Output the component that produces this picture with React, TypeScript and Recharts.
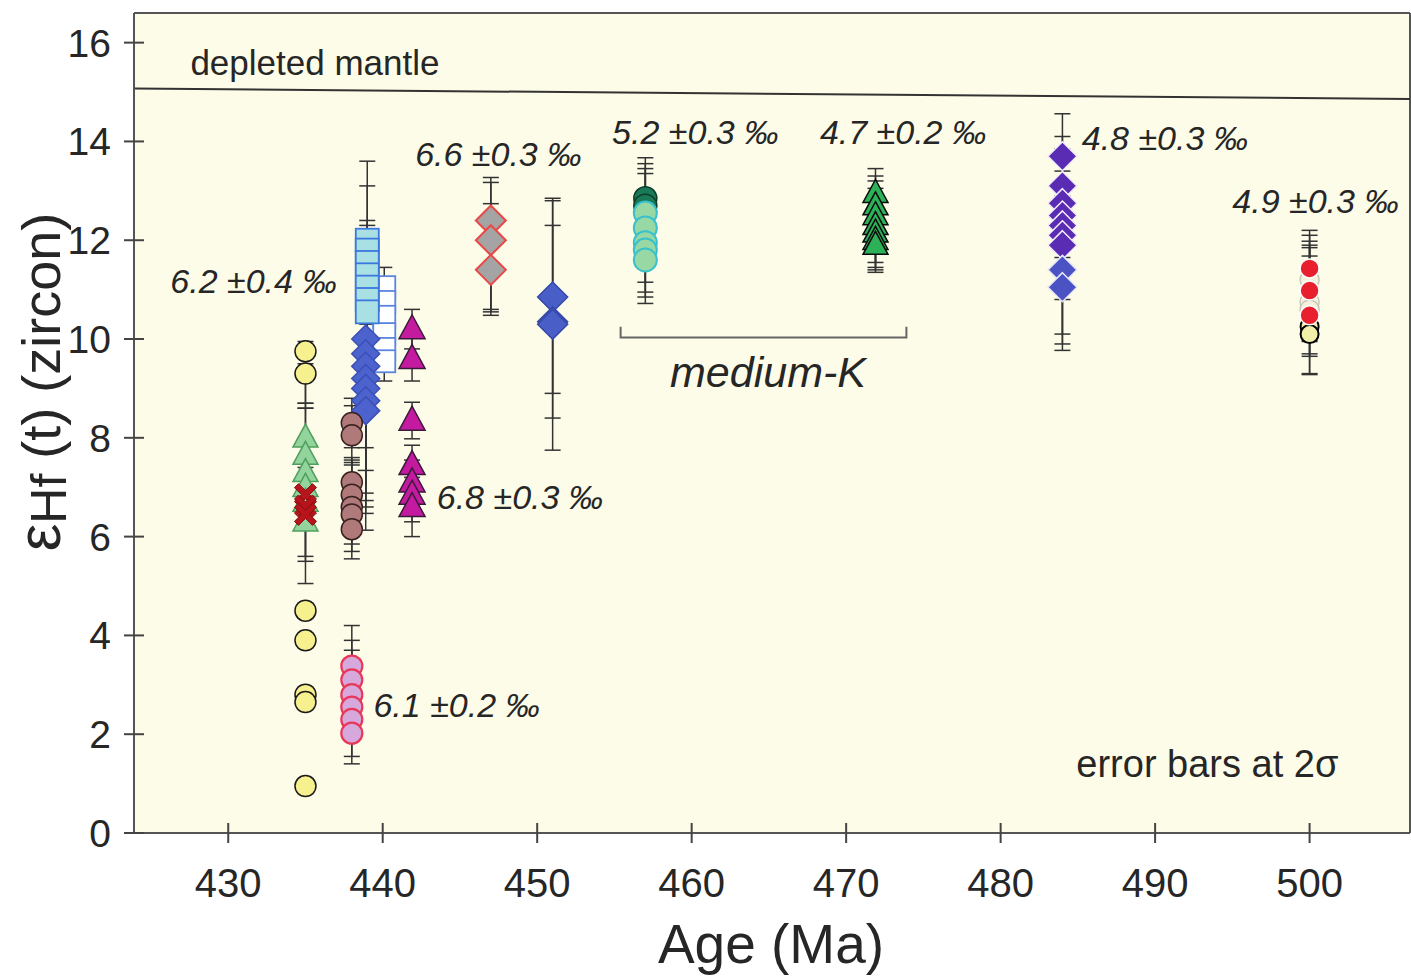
import React from 'react';
import {
  ScatterChart,
  Scatter,
  XAxis,
  YAxis,
  ErrorBar,
  CartesianGrid,
  ReferenceLine,
  ReferenceDot,
} from 'recharts';

const FONT = '"Liberation Sans", Arial, sans-serif';
const TEXT = '#262626';

const X_DOMAIN = [423.9, 506.5];
const Y_DOMAIN = [0, 16.6];
const X_TICKS = [430, 440, 450, 460, 470, 480, 490, 500];
const Y_TICKS = [0, 2, 4, 6, 8, 10, 12, 14, 16];

// depleted mantle reference line
const DM_AGE = [423.9, 506.5];
const DM_EHF = [15.07, 14.86];

// bracket under the medium-K samples
const BRACKET_AGE = [455.4, 455.4, 473.9, 473.9];
const BRACKET_EHF = [10.25, 10.03, 10.03, 10.25];

// eHf(t) values and 2σ errors (single number or [low, high])
const YELLOW_EHF = [9.75, 9.3, 4.5, 3.9, 2.8, 2.65, 0.95];
const YELLOW_ERR = [[1.15, 0.2], [0.6, 0.2], 0.15, 0.15, 0.15, 0.15, 0.15];

const GREEN435_EHF = [8.0, 7.65, 7.3, 7.0, 6.7, 6.3];
const GREEN435_ERR = [[0.6, 0.7], [0.9, 0.95], [0.8, 0.7], [1.4, 0.9], [1.2, 0.8], [1.25, 0.9]];

const RED435_EHF = [6.85, 6.62, 6.45];
const RED435_ERR = [0.3, 0.3, 0.3];

const BROWN_EHF = [8.3, 8.05, 7.1, 6.85, 6.6, 6.45, 6.15];
const BROWN_ERR = [0.5, 0.6, 0.5, 0.7, 0.9, 0.6, 0.6];

const PINK_EHF = [3.38, 3.1, 2.8, 2.55, 2.3, 2.02];
const PINK_ERR = [0.82, 0.8, 0.9, 0.6, 0.9, 0.47];

const OPENSQ_EHF = [11.05, 10.75, 10.45, 10.1, 9.8, 9.55];
const OPENSQ_ERR = [0.4, 0.4, 0.4, 0.4, 0.4, 0.4];

const CYANSQ_EHF = [12.0, 11.8, 11.55, 11.3, 11.05, 10.8, 10.55];
const CYANSQ_ERR = [1.6, 1.3, 0.85, 1.0, 1.1, 1.0, 1.2];

const BLUE439_EHF = [10.0, 9.7, 9.45, 9.2, 9.0, 8.75, 8.55];
const BLUE439_ERR = [[2.2, 0.9], [2.36, 0.9], [2.57, 0.9], [2.47, 0.9], [2.4, 0.9], [2.28, 0.9], [2.42, 0.9]];

const MAGENTA_EHF = [10.2, 9.6, 8.35, 7.45, 7.1, 6.85, 6.6];
const MAGENTA_ERR = [0.4, 0.45, 0.37, 0.4, 0.45, 0.55, 0.6];

const GREY_EHF = [12.4, 12.0, 11.4];
const GREY_ERR = [[1.8, 0.87], [1.45, 1.17], [0.92, 1.34]];

const BLUE451_EHF = [10.85, 10.35, 10.3];
const BLUE451_ERR = [1.95, 1.95, 2.55];

const DKGREEN_EHF = [12.85, 12.7];
const DKGREEN_ERR = [0.82, 0.85];

const TEAL_EHF = [12.55, 12.25, 11.95, 11.8, 11.6];
const TEAL_ERR = [0.9, 1.1, 1.0, 0.95, 0.88];

const GREEN472_EHF = [12.95, 12.7, 12.5, 12.3, 12.15, 12.0, 11.9];
const GREEN472_ERR = [0.5, 0.6, 0.7, 0.75, 0.7, 0.6, 0.55];

const PURPLE_EHF = [13.7, 13.1, 12.75, 12.5, 12.3, 12.1, 11.9];
const PURPLE_ERR = [0.86, 1.0, 1.1, 1.2, 1.3, 1.3, 1.8];

const BLUE484_EHF = [11.4, 11.05];
const BLUE484_ERR = [1.5, 1.28];

const PALE500_EHF = [11.2, 10.75, 10.6];
const PALE500_ERR = [0.9, 1.1, 1.3];

const YELLOW500_EHF = [10.25, 10.1];
const YELLOW500_ERR = [0.3, 0.4];

const RED500_EHF = [11.43, 10.98, 10.48];
const RED500_ERR = [0.77, 1.0, 1.2];

// annotations
const NOTE_TEXT = ['6.2 ±0.4 ‰', '6.6 ±0.3 ‰', '5.2 ±0.3 ‰', '4.7 ±0.2 ‰', '4.8 ±0.3 ‰', '4.9 ±0.3 ‰', '6.8 ±0.3 ‰', '6.1 ±0.2 ‰'];
const NOTE_AGE = [426.25, 442.1, 454.85, 468.3, 485.25, 495.0, 443.5, 439.4];
const NOTE_EHF = [10.94, 13.51, 13.94, 13.94, 13.82, 12.56, 6.55, 2.35];

const mk = (age: number, ehf: number[], err: any[]) =>
  ehf.map((v, i) => ({ age, ehf: v, err: err[i] }));

const circle = (r: number, fill: string, stroke: string, sw = 1.5) => (p: any) =>
  p.cx == null ? <g /> : <circle cx={p.cx} cy={p.cy} r={r} fill={fill} stroke={stroke} strokeWidth={sw} />;

const square = (h: number, fill: string, stroke: string, sw = 1.8) => (p: any) =>
  p.cx == null ? <g /> : (
    <rect x={p.cx - h} y={p.cy - h} width={2 * h} height={2 * h} fill={fill} stroke={stroke} strokeWidth={sw} />
  );

const diamond = (h: number, fill: string, stroke: string, sw = 1.5) => (p: any) =>
  p.cx == null ? <g /> : (
    <polygon
      points={`${p.cx},${p.cy - h} ${p.cx + h},${p.cy} ${p.cx},${p.cy + h} ${p.cx - h},${p.cy}`}
      fill={fill}
      stroke={stroke}
      strokeWidth={sw}
    />
  );

const triangle = (w: number, h: number, fill: string, stroke: string, sw = 1.5) => (p: any) =>
  p.cx == null ? <g /> : (
    <polygon
      points={`${p.cx},${p.cy - h * 0.6} ${p.cx + w / 2},${p.cy + h * 0.4} ${p.cx - w / 2},${p.cy + h * 0.4}`}
      fill={fill}
      stroke={stroke}
      strokeWidth={sw}
    />
  );

const xMark = (s: number, fill: string, stroke: string) => (p: any) => {
  if (p.cx == null) return <g />;
  const { cx, cy } = p;
  const t = 4;
  const d = `M${cx - s},${cy - s + t} L${cx - s + t},${cy - s} L${cx},${cy - t} L${cx + s - t},${cy - s} L${cx + s},${cy - s + t} L${cx + t},${cy} L${cx + s},${cy + s - t} L${cx + s - t},${cy + s} L${cx},${cy + t} L${cx - s + t},${cy + s} L${cx - s},${cy + s - t} L${cx - t},${cy} Z`;
  return <path d={d} fill={fill} stroke={stroke} strokeWidth={1} />;
};

const SERIES = [
  { data: mk(435, YELLOW_EHF, YELLOW_ERR), shape: circle(10.5, '#f7f08e', '#1a1a1a') },
  { data: mk(435, GREEN435_EHF, GREEN435_ERR), shape: triangle(25, 23, '#92d49c', '#4f9f5e') },
  { data: mk(435, RED435_EHF, RED435_ERR), shape: xMark(11, '#b8141c', '#8a0c10') },
  { data: mk(438, PINK_EHF, PINK_ERR), shape: circle(10.5, '#d6a8dc', '#e8385a', 2.2) },
  { data: mk(440.1, OPENSQ_EHF, OPENSQ_ERR), shape: square(11, '#ffffff', '#5a86e0') },
  { data: mk(439, CYANSQ_EHF, CYANSQ_ERR), shape: square(11.5, '#a8e0e4', '#3c78e0') },
  { data: mk(438.9, BLUE439_EHF, BLUE439_ERR), shape: diamond(14, '#4c62cc', '#3a50b8') },
  { data: mk(438, BROWN_EHF, BROWN_ERR), shape: circle(10.5, '#b07a7a', '#3a2020') },
  { data: mk(441.9, MAGENTA_EHF, MAGENTA_ERR), shape: triangle(26, 24, '#c41aa0', '#3a1a3a') },
  { data: mk(447, GREY_EHF, GREY_ERR), shape: diamond(15, '#a4a4a4', '#e84848', 2) },
  { data: mk(451, BLUE451_EHF, BLUE451_ERR), shape: diamond(15, '#4a5ec8', '#3448a8') },
  { data: mk(457, DKGREEN_EHF, DKGREEN_ERR), shape: circle(11.5, '#1a7a58', '#0c3c2c') },
  { data: mk(457, TEAL_EHF, TEAL_ERR), shape: circle(11.5, '#98d8a4', '#38c0cc', 2) },
  { data: mk(471.9, GREEN472_EHF, GREEN472_ERR), shape: triangle(25, 23, '#2cb058', '#0a0a0a') },
  { data: mk(484, PURPLE_EHF, PURPLE_ERR), shape: diamond(14.5, '#5a2cb4', '#f0ecf8') },
  { data: mk(484, BLUE484_EHF, BLUE484_ERR), shape: diamond(14.5, '#4a52c4', '#e8e8f4') },
  { data: mk(500, PALE500_EHF, PALE500_ERR), shape: circle(9.5, '#f4f2dc', '#c8c8b8') },
  { data: mk(500, YELLOW500_EHF, YELLOW500_ERR), shape: circle(9, '#f2f0a8', '#000000', 2) },
  { data: mk(500, RED500_EHF, RED500_ERR), shape: circle(9.5, '#e8202e', '#ffffff') },
];

const XTick = (p: any) => (
  <g>
    <line x1={p.x} x2={p.x} y1={p.y - 10} y2={p.y + 10} stroke="#444" strokeWidth={2} />
    <text x={p.x} y={p.y + 64} textAnchor="middle" fontSize={40} fill={TEXT} fontFamily={FONT}>
      {p.payload.value}
    </text>
  </g>
);

const YTick = (p: any) => (
  <g>
    <line x1={p.x - 10} x2={p.x + 10} y1={p.y} y2={p.y} stroke="#444" strokeWidth={2} />
    <text x={p.x - 23} y={p.y + 14} textAnchor="end" fontSize={39} fill={TEXT} fontFamily={FONT}>
      {p.payload.value}
    </text>
  </g>
);

const noteShape = (text: string, size: number, italic: boolean) => (p: any) =>
  p.cx == null ? <g /> : (
    <text x={p.cx} y={p.cy} fontSize={size} fontStyle={italic ? 'italic' : 'normal'} fill={TEXT} fontFamily={FONT}>
      {text}
    </text>
  );

export default function App() {
  const bracket = BRACKET_AGE.map((a, i) => ({ age: a, ehf: BRACKET_EHF[i] }));
  return (
    <div style={{ position: 'absolute', left: 0, top: 0, width: 1411, height: 978, background: '#fff' }}>
      <ScatterChart width={1411} height={978} margin={{ top: 13, right: 1, bottom: 0, left: 0 }}>
        <CartesianGrid horizontal={false} vertical={false} fill="#fdfce8" fillOpacity={1} />
        <XAxis
          type="number"
          dataKey="age"
          domain={X_DOMAIN}
          ticks={X_TICKS}
          allowDataOverflow
          height={145}
          tickSize={0}
          tickMargin={0}
          tickLine={false}
          tick={XTick}
          axisLine={{ stroke: '#555', strokeWidth: 2 }}
          label={{
            content: () => (
              <text x={771} y={963} textAnchor="middle" fontSize={55} fill={TEXT} fontFamily={FONT}>
                Age (Ma)
              </text>
            ),
          }}
        />
        <YAxis
          type="number"
          dataKey="ehf"
          domain={Y_DOMAIN}
          ticks={Y_TICKS}
          allowDataOverflow
          width={134}
          tickSize={0}
          tickMargin={0}
          tickLine={false}
          tick={YTick}
          axisLine={{ stroke: '#555', strokeWidth: 2 }}
          label={{
            content: () => (
              <text
                x={0}
                y={0}
                transform="translate(60,382) rotate(-90)"
                textAnchor="middle"
                fontSize={54}
                fill={TEXT}
                fontFamily={FONT}
              >
                <tspan fontSize={62}>ε</tspan>
                <tspan fontSize={50} dy={6}>Hf</tspan>
                <tspan dy={-6}> (t) (zircon)</tspan>
              </text>
            ),
          }}
        />
        <ReferenceLine y={Y_DOMAIN[1]} stroke="#555" strokeWidth={2} ifOverflow="visible" />
        <ReferenceLine x={X_DOMAIN[1]} stroke="#555" strokeWidth={2} ifOverflow="visible" />
        <ReferenceLine
          segment={[
            { x: DM_AGE[0], y: DM_EHF[0] },
            { x: DM_AGE[1], y: DM_EHF[1] },
          ]}
          stroke="#333"
          strokeWidth={2}
          ifOverflow="visible"
        />
        <Scatter
          data={bracket}
          line={{ stroke: '#666', strokeWidth: 2 }}
          lineType="joint"
          shape={() => <g />}
          isAnimationActive={false}
        />
        {SERIES.map((s, i) => (
          <Scatter key={i} data={s.data} shape={s.shape} isAnimationActive={false}>
            <ErrorBar dataKey="err" direction="y" width={8} stroke="#333" strokeWidth={1.5} />
          </Scatter>
        ))}
        {NOTE_TEXT.map((t, i) => (
          <ReferenceDot key={t + i} x={NOTE_AGE[i]} y={NOTE_EHF[i]} r={0} shape={noteShape(t, 34, true)} />
        ))}
        <ReferenceDot x={458.6} y={9.02} r={0} shape={noteShape('medium-K', 43, true)} />
        <ReferenceDot x={484.9} y={1.13} r={0} shape={noteShape('error bars at 2σ', 38, false)} />
        <ReferenceDot x={427.55} y={15.35} r={0} shape={noteShape('depleted mantle', 35, false)} />
      </ScatterChart>
    </div>
  );
}
